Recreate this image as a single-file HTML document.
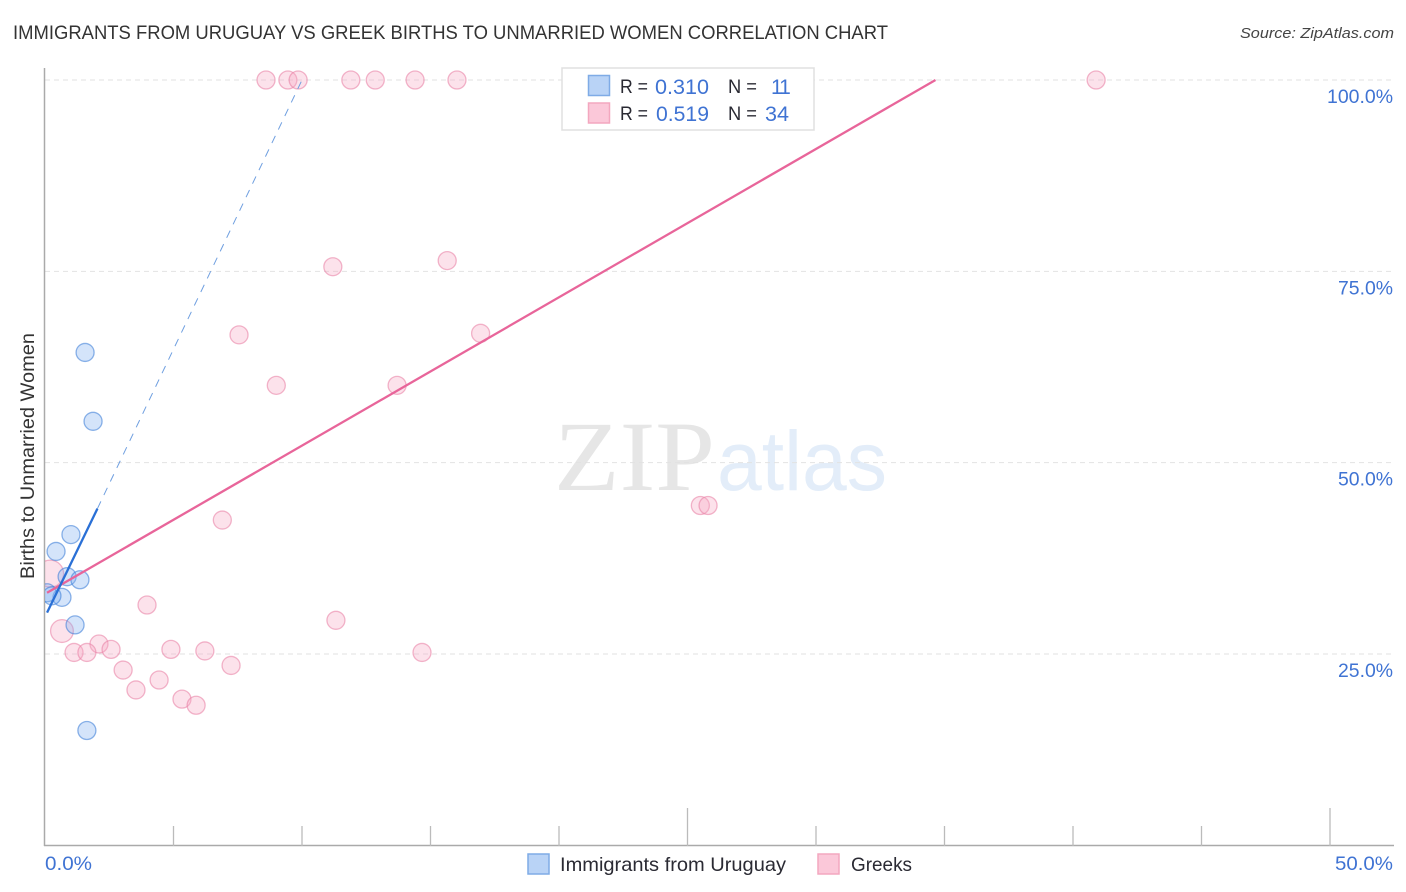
<!DOCTYPE html>
<html lang="en">
<head>
<meta charset="utf-8">
<title>Immigrants from Uruguay vs Greek Births to Unmarried Women Correlation Chart</title>
<style>
html,body{margin:0;padding:0;background:#fff;width:1406px;height:892px;overflow:hidden}
svg{display:block;font-family:"Liberation Sans",sans-serif}
</style>
</head>
<body>
<svg id="chart" xmlns="http://www.w3.org/2000/svg" width="1406" height="892" viewBox="0 0 1406 892">
  <defs><clipPath id="plot-clip"><rect x="45" y="60" width="1349" height="786"/></clipPath></defs>
  <text x="13" y="39" font-size="19" fill="#333" textLength="875" lengthAdjust="spacingAndGlyphs">IMMIGRANTS FROM URUGUAY VS GREEK BIRTHS TO UNMARRIED WOMEN CORRELATION CHART</text>
  <text x="1394" y="38" font-size="15" font-style="italic" fill="#444" text-anchor="end" textLength="154" lengthAdjust="spacingAndGlyphs">Source: ZipAtlas.com</text>
  <g>
    <text x="554" y="490" font-family="'Liberation Serif',serif" font-size="100" fill="#e6e6e6" textLength="161" lengthAdjust="spacingAndGlyphs">ZIP</text>
    <text x="717" y="490" font-size="84" fill="#e3edf9" textLength="170" lengthAdjust="spacingAndGlyphs">atlas</text>
  </g>
  <g id="grid"></g>
  <g id="axes"></g>
  <g id="points" clip-path="url(#plot-clip)"></g>
  <g id="trends" clip-path="url(#plot-clip)"></g>
  <g id="ylabels"></g>
  <text transform="translate(34,456) rotate(-90)" font-size="19" fill="#333" text-anchor="middle" textLength="246" lengthAdjust="spacingAndGlyphs">Births to Unmarried Women</text>
  <text x="45" y="870" font-size="19" fill="#3f73d3" textLength="47" lengthAdjust="spacingAndGlyphs">0.0%</text>
  <text x="1393" y="870" font-size="19" fill="#3f73d3" text-anchor="end" textLength="58" lengthAdjust="spacingAndGlyphs">50.0%</text>

  <g>
    <rect x="562" y="68" width="252" height="62" fill="#fff" stroke="#e0e0e0" stroke-width="1.5"/>
    <rect x="588.500" y="75.500" width="21" height="20" fill="#b9d3f6" stroke="#7fabe6" stroke-width="1.500"/>
    <rect x="588.500" y="103" width="21" height="20" fill="#fbc8d9" stroke="#f3a7bf" stroke-width="1.500"/>
    <text x="620" y="93" font-size="19.500" fill="#2a2a33" textLength="28" lengthAdjust="spacingAndGlyphs">R =</text>
    <text x="655" y="94" font-size="21" fill="#3f73d3" textLength="54" lengthAdjust="spacingAndGlyphs">0.310</text>
    <text x="728" y="93" font-size="19.500" fill="#2a2a33" textLength="29" lengthAdjust="spacingAndGlyphs">N =</text>
    <text x="771" y="94" font-size="21" fill="#3f73d3" letter-spacing="-2">11</text>
    <text x="620" y="120" font-size="19.500" fill="#2a2a33" textLength="28" lengthAdjust="spacingAndGlyphs">R =</text>
    <text x="656" y="121" font-size="21" fill="#3f73d3" textLength="53" lengthAdjust="spacingAndGlyphs">0.519</text>
    <text x="728" y="120" font-size="19.500" fill="#2a2a33" textLength="29" lengthAdjust="spacingAndGlyphs">N =</text>
    <text x="765" y="121" font-size="21" fill="#3f73d3" textLength="24" lengthAdjust="spacingAndGlyphs">34</text>
  </g>

  <g>
    <g>
      <rect x="528" y="854" width="21" height="20" fill="#b9d3f6" stroke="#7fabe6" stroke-width="1.500"/>
      <text x="560" y="871" font-size="19.500" fill="#2a2a33" textLength="226" lengthAdjust="spacingAndGlyphs">Immigrants from Uruguay</text>
    </g>
    <g>
      <rect x="818" y="854" width="21" height="20" fill="#fbc8d9" stroke="#f3a7bf" stroke-width="1.500"/>
      <text x="851" y="871" font-size="19.500" fill="#2a2a33" textLength="61" lengthAdjust="spacingAndGlyphs">Greeks</text>
    </g>
  </g>
</svg>
<script>
var yTicks = [25, 50, 75, 100];
var yTickLabels = ['25.0%', '50.0%', '75.0%', '100.0%'];
var xTicks = [5, 10, 15, 20, 25, 30, 35, 40, 45, 50];
var xMajorTicks = [25, 50];

var uruguayX = [1.56, 1.87, 1.01, 0.43, 0.86, 1.36, 0.66, 1.17, 1.63, 0.08, 0.27];
var uruguayY = [64.4, 55.4, 40.6, 38.4, 35.1, 34.7, 32.4, 28.8, 15.0, 33.0, 32.6];
var uruguayWeights = [1, 1, 1, 1, 1, 1, 1, 1, 1, 1, 1];

var greeksX = [8.6, 9.45, 9.85, 11.9, 12.85, 14.4, 16.03, 40.9, 11.2, 15.65, 7.55, 16.95, 9.0, 13.7, 6.9, 25.5, 25.8, 3.97, 11.32, 14.67, 2.1, 2.57, 1.13, 1.63, 4.9, 6.22, 7.24, 3.04, 4.44, 3.54, 5.33, 5.88, 0.66, 0.2];
var greeksY = [100, 100, 100, 100, 100, 100, 100, 100, 75.6, 76.4, 66.7, 66.9, 60.1, 60.1, 42.5, 44.4, 44.4, 31.4, 29.4, 25.2, 26.3, 25.6, 25.2, 25.2, 25.6, 25.4, 23.5, 22.9, 21.6, 20.3, 19.1, 18.3, 28.0, 35.5];
var greeksWeights = [1, 1, 1, 1, 1, 1, 1, 1, 1, 1, 1, 1, 1, 1, 1, 1, 1, 1, 1, 1, 1, 1, 1, 1, 1, 1, 1, 1, 1, 1, 1, 1, 1.85, 2.8];

var uruguayTrendSolidX = [0.08, 2.04];
var uruguayTrendSolidY = [30.4, 44.0];
var uruguayTrendDashX = [2.04, 10.0];
var uruguayTrendDashY = [44.0, 100.0];
var greeksTrendX = [0.08, 34.65];
var greeksTrendY = [33.0, 100.0];

var NS = 'http://www.w3.org/2000/svg';
function xScale(v) { return 45 + v * 25.7; }
function yScale(v) { return 80 + (100 - v) * 7.653; }
function make(tag, attrs, parent) {
  var el = document.createElementNS(NS, tag);
  for (var k in attrs) { el.setAttribute(k, attrs[k]); }
  parent.appendChild(el);
  return el;
}

var grid = document.getElementById('grid');
var axes = document.getElementById('axes');
var ylabels = document.getElementById('ylabels');
var points = document.getElementById('points');
var trends = document.getElementById('trends');

yTicks.forEach(function (t, i) {
  var line = make('line', {x1: 45, x2: 1393, y1: yScale(t), y2: yScale(t), stroke: '#e2e2e2', 'stroke-width': 1, 'stroke-dasharray': '5 4'}, grid);
  
  
  var label = make('text', {x: 1393, y: yScale(t) + 23, 'font-size': 19, fill: '#3f73d3', 'text-anchor': 'end', textLength: yTickLabels[i].length * 11, lengthAdjust: 'spacingAndGlyphs'}, ylabels);
  label.textContent = yTickLabels[i];
  
  
});

var yAxis = make('line', {x1: 44.500, x2: 44.500, y1: 68, y2: 846, stroke: '#aaa', 'stroke-width': 1.500}, axes);


var xAxis = make('line', {x1: 44, x2: 1394, y1: 845.500, y2: 845.500, stroke: '#aaa', 'stroke-width': 1.500}, axes);



xTicks.forEach(function (t) {
  var top = xMajorTicks.indexOf(t) >= 0 ? 808 : 826;
  var tick = make('line', {x1: xScale(t), x2: xScale(t), y1: top, y2: 846, stroke: '#bbb', 'stroke-width': 1.300}, axes);
  
  
});

function drawSeries(xs, ys, ws, fill, stroke, name) {
  xs.forEach(function (x, i) {
    var c = make('circle', {cx: xScale(x), cy: yScale(ys[i]), r: 9 * Math.sqrt(ws[i]) * (ws[i] > 1 ? 0.74 + 0.26 / Math.sqrt(ws[i]) : 1), fill: fill, stroke: stroke, 'stroke-width': 1.300}, points);
    
    
  });
}
drawSeries(greeksX, greeksY, greeksWeights, 'rgba(247,170,195,0.34)', 'rgba(232,130,165,0.58)', 'greeks-point');
drawSeries(uruguayX, uruguayY, uruguayWeights, 'rgba(130,175,240,0.34)', 'rgba(60,125,215,0.58)', 'uruguay-point');

var dash = make('line', {x1: xScale(uruguayTrendDashX[0]), y1: yScale(uruguayTrendDashY[0]), x2: xScale(uruguayTrendDashX[1]), y2: yScale(uruguayTrendDashY[1]), stroke: '#6f9fe0', 'stroke-width': 1, 'stroke-dasharray': '8 7'}, trends);


var pinkLine = make('line', {x1: xScale(greeksTrendX[0]), y1: yScale(greeksTrendY[0]), x2: xScale(greeksTrendX[1]), y2: yScale(greeksTrendY[1]), stroke: '#e8659a', 'stroke-width': 2.300}, trends);


var blueLine = make('line', {x1: xScale(uruguayTrendSolidX[0]), y1: yScale(uruguayTrendSolidY[0]), x2: xScale(uruguayTrendSolidX[1]), y2: yScale(uruguayTrendSolidY[1]), stroke: '#2a70d6', 'stroke-width': 2.300}, trends);


</script>
</body>
</html>
